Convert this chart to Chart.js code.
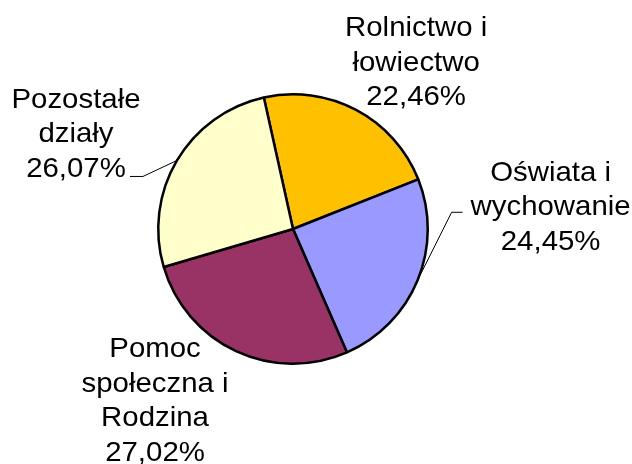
<!DOCTYPE html>
<html>
<head>
<meta charset="utf-8">
<script src="https://cdn.jsdelivr.net/npm/chart.js@4/dist/chart.umd.min.js"></script>
<style>
    body { margin: 0; background: #fff; }
    #wrap { width: 632px; height: 464px; }
</style>
</head>
<body>
<div id="wrap"><canvas id="pie-chart" width="632" height="464"></canvas></div>
<script>
const categories = [
    ["Rolnictwo i", "łowiectwo"],
    ["Oświata i", "wychowanie"],
    ["Pomoc", "społeczna i", "Rodzina"],
    ["Pozostałe", "działy"]
];
const shares = [22.46, 24.45, 27.02, 26.07];
const sliceColors = ['#FFC000', '#9999FF', '#993366', '#FFFFCC'];

// where each label block sits, relative to the slice's outer mid point
const labelOffsets = [[60, -49], [133, -75], [-81, 48], [-101, -28]];
// leader lines: [bend dx, bend dy, end dx, end dy] relative to the slice's outer mid point
const leaders = [null, [34, -68, 45, -68], null, [-34, 16, -47, 16]];

const fmtPct = v => v.toFixed(2).replace('.', ',') + '%';

const outsideLabels = {
    id: 'outsideLabels',
    afterDraw(chart) {
        const ctx = chart.ctx;
        const arcs = chart.getDatasetMeta(0).data;
        ctx.save();
        ctx.font = '28px "Liberation Sans", Arial, sans-serif';
        ctx.fillStyle = '#000';
        ctx.textAlign = 'center';
        ctx.textBaseline = 'alphabetic';
        ctx.strokeStyle = '#000';
        ctx.lineWidth = 1;
        arcs.forEach((arc, i) => {
            const mid = (arc.startAngle + arc.endAngle) / 2;
            const ex = arc.x + Math.cos(mid) * arc.outerRadius;
            const ey = arc.y + Math.sin(mid) * arc.outerRadius;
            const lines = categories[i].concat([fmtPct(shares[i])]);
            const lh = 34.5;
            const cx = ex + labelOffsets[i][0];
            const cy = ey + labelOffsets[i][1];
            lines.forEach((t, k) => {
                const y = cy - (lines.length - 1) / 2 * lh + k * lh + 10;
                ctx.save();
                ctx.translate(cx, y);
                ctx.scale(1.05, 1);
                ctx.fillText(t, 0, 0);
                ctx.restore();
            });
            const ld = leaders[i];
            if (ld) {
                ctx.beginPath();
                ctx.moveTo(ex, ey);
                ctx.lineTo(ex + ld[0], ey + ld[1]);
                ctx.lineTo(ex + ld[2], ey + ld[3]);
                ctx.stroke();
            }
        });
        ctx.restore();
    }
};

const pieCtx = document.getElementById('pie-chart').getContext('2d');
const pieChart = new Chart(pieCtx, {
    type: 'pie',
    data: {
        labels: categories.map(c => c.join(' ')),
        datasets: [{
            data: shares,
            backgroundColor: sliceColors,
            borderColor: '#000',
            borderWidth: 2.5
        }]
    },
    options: {
        responsive: false,
        animation: false,
        rotation: -12.5,
        layout: { padding: { left: 157, right: 203, top: 93, bottom: 99 } },
        plugins: {
            legend: { display: false },
            tooltip: { enabled: false }
        }
    },
    plugins: [outsideLabels]
});
</script>
</body>
</html>
